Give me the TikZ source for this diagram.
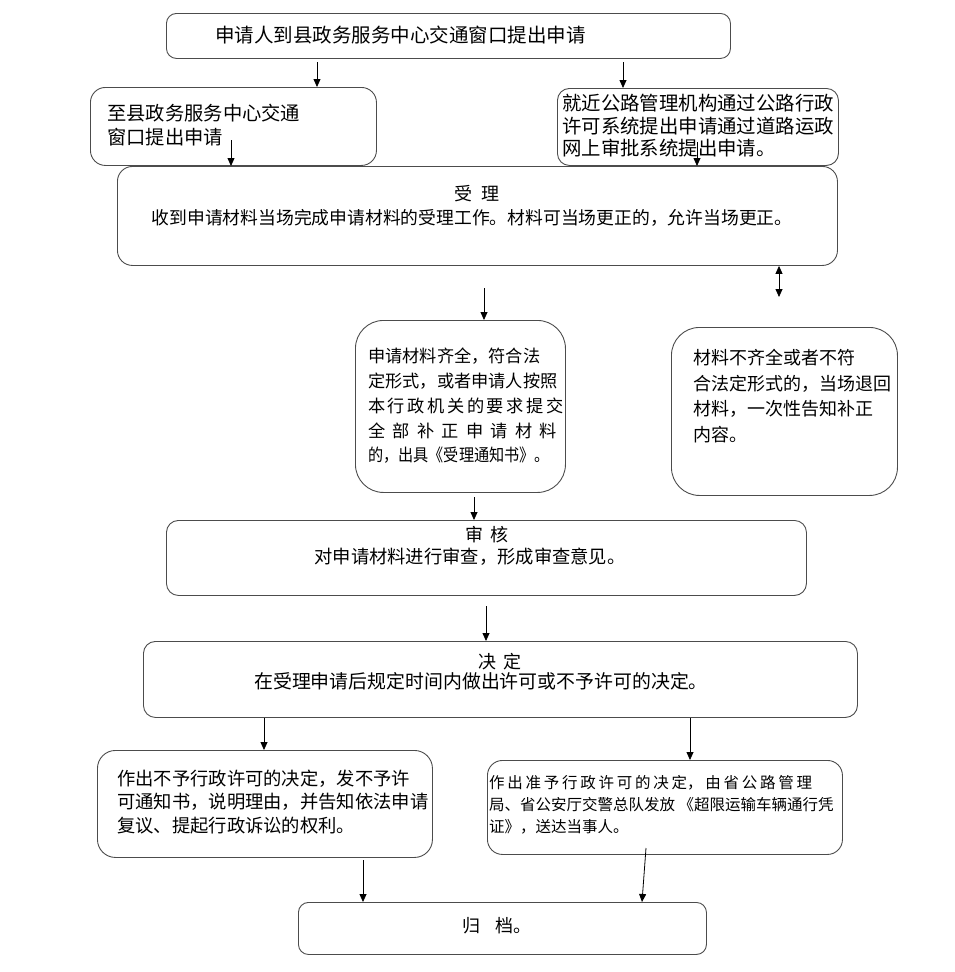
\documentclass[tikz,border=0pt]{standalone}
\usepackage{fontspec}
\usepackage{graphicx}
\setmainfont{Noto Sans CJK SC}
\usetikzlibrary{arrows.meta,calc}

\newcommand{\fs}[2]{\fontsize{#1}{#2}\selectfont}

\begin{document}
\begin{tikzpicture}[x=1pt,y=-1pt,
  box/.style={draw=black!70,line width=0.9pt,anchor=north west,inner sep=0pt},
  txt/.style={anchor=west,inner sep=0pt,align=left},
  ctxt/.style={inner sep=0pt,align=center},
  arr/.style={-{Triangle[length=8pt,width=7pt]},line width=0.8pt},
  darr/.style={{Triangle[length=8pt,width=7pt]}-{Triangle[length=8pt,width=7pt]},line width=0.8pt}]
\useasboundingbox (0,0) rectangle (954,972);

% Boxes
\node [box,rounded corners=10pt,minimum width=564pt,minimum height=45pt] (apply) at (166,13) {};
\node [box,rounded corners=15pt,minimum width=286pt,minimum height=78pt] (window) at (90,87) {};
\node [box,rounded corners=12pt,minimum width=281pt,minimum height=77pt] (online) at (557,88) {};
\node [box,rounded corners=15pt,minimum width=720pt,minimum height=99pt] (accept) at (117,166) {};
\node [box,rounded corners=28pt,minimum width=210pt,minimum height=172pt] (complete) at (355,320) {};
\node [box,rounded corners=28pt,minimum width=226pt,minimum height=168pt] (reject) at (671,327) {};
\node [box,rounded corners=12pt,minimum width=640pt,minimum height=75pt] (review) at (166,520) {};
\node [box,rounded corners=12pt,minimum width=714pt,minimum height=76pt] (decide) at (143,641) {};
\node [box,rounded corners=18pt,minimum width=335pt,minimum height=107pt] (deny) at (97,750) {};
\node [box,rounded corners=15pt,minimum width=355pt,minimum height=94pt] (grant) at (487,760) {};
\node [box,rounded corners=10pt,minimum width=408pt,minimum height=52pt] (archive) at (298,902) {};

% Texts
\node [txt,font=\fs{19.5}{24}] (apply-t) at (215,35) {申请人到县政务服务中心交通窗口提出申请};
\node [txt,font=\fs{19.3}{24}] (window-t) at (107,125) {至县政务服务中心交通\\窗口提出申请};
\node [txt,font=\fs{19.4}{22.5}] (online-t) at (562,126) {就近公路管理机构通过公路行政\\许可系统提出申请通过道路运政\\网上审批系统提出申请。};
\node [ctxt,font=\fs{18}{22}] (accept-h) at (477,194) {受\hspace{10pt}理};
\node [ctxt,font=\fs{17.8}{22}] (accept-t) at (472,218) {收到申请材料当场完成申请材料的受理工作。材料可当场更正的，允许当场更正。};
\node [txt,font=\fs{17.2}{24.75}] (complete-t) at (368,406) {申请材料齐全，符合法\\定形式，或者申请人按照\\
  \makebox[189pt][s]{本 行 政 机 关 的 要 求 提 交}\\
  \makebox[189pt][s]{全 部 补 正 申 请 材 料}\\
  \scalebox{0.88}[1]{的，出具《受理通知书》。}};
\node [txt,font=\fs{18}{25.5}] (reject-t) at (693,396) {材料不齐全或者不符\\合法定形式的，当场退回\\材料，一次性告知补正\\内容。};
\node [ctxt,font=\fs{18}{22}] (review-h) at (487,535) {审\hspace{8pt}核};
\node [ctxt,font=\fs{18.3}{22}] (review-t) at (470,557) {对申请材料进行审查，形成审查意见。};
\node [ctxt,font=\fs{18}{22}] (decide-h) at (500,662) {决\hspace{8pt}定};
\node [ctxt,font=\fs{18.9}{22}] (decide-t) at (481,681) {在受理申请后规定时间内做出许可或不予许可的决定。};
\node [txt,font=\fs{18.3}{23.5}] (deny-t) at (117,802) {作出不予行政许可的决定，发不予许\\可通知书，说明理由，并告知依法申请\\复议、提起行政诉讼的权利。};
\node [txt,font=\fs{15.5}{22}] (grant-t) at (489,805) {\makebox[323pt][s]{作 出 准 予 行 政 许 可 的 决 定， 由 省 公 路 管 理}\\局、省公安厅交警总队发放 《超限运输车辆通行凭\\证》，送达当事人。};
\node [ctxt,font=\fs{18}{22}] (archive-t) at (497,926) {归\hspace{16pt}档。};

% arrows
\coordinate (c1) at (317,62);
\draw [arr] (c1) -- (c1 |- window.north);
\coordinate (c2) at (623,62);
\draw [arr] (c2) -- (c2 |- online.north);
\coordinate (c3) at (231,140);
\draw [arr] (c3) -- (c3 |- accept.north);
\coordinate (c4) at (697,142);
\draw [arr] (c4) -- (c4 |- accept.north);
\coordinate (d1) at (779,297);
\draw [darr] (d1 |- accept.south) -- (d1);
\coordinate (c5) at (484,288);
\draw [arr] (c5) -- (c5 |- complete.north);
\coordinate (c6) at (474,497);
\draw [arr] (c6) -- (c6 |- review.north);
\coordinate (c7) at (486,606);
\draw [arr] (c7) -- (c7 |- decide.north);
\coordinate (c8) at (264,0);
\draw [arr] (c8 |- decide.south) -- (c8 |- deny.north);
\coordinate (c9) at (690,0);
\draw [arr] (c9 |- decide.south) -- (c9 |- grant.north);
\coordinate (c10) at (363,860);
\draw [arr] (c10) -- (c10 |- archive.north);
\coordinate (c11) at (646,848);
\coordinate (e11) at (642,0);
\draw [arr] (c11) -- (e11 |- archive.north);

\end{tikzpicture}
\end{document}
